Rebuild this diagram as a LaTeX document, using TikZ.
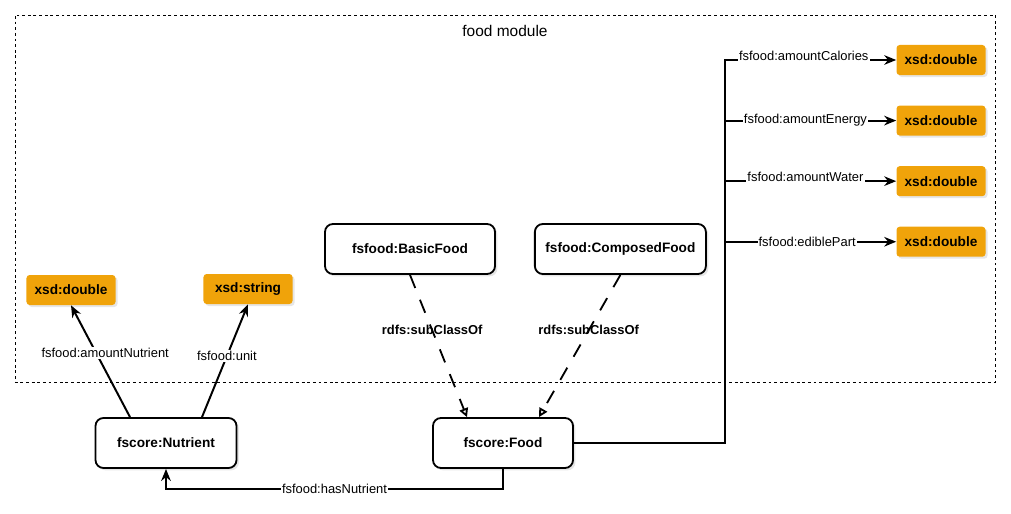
\documentclass[tikz,border=0pt]{standalone}
\usepackage{fontspec}
\setmainfont{Liberation Sans}
\usetikzlibrary{arrows.meta, positioning, shadows}
\definecolor{xsdorange}{RGB}{240, 163, 10}
\definecolor{linkblack}{RGB}{0, 0, 0}
\tikzset{
    classbox/.style={rectangle, draw=linkblack, fill=white, line width=1.3pt, minimum width=3.5cm, minimum height=1.25cm, align=center, rounded corners=2mm, font=\fontsize{9.7}{11}\selectfont\bfseries, drop shadow={opacity=0.2, shadow xshift=0.6mm, shadow yshift=-0.6mm}},
    xsdbox/.style={rectangle, fill=xsdorange, minimum width=2.225cm, minimum height=0.75cm, rounded corners=0.8mm, font=\fontsize{9.7}{11}\selectfont\bfseries, drop shadow={opacity=0.2, shadow xshift=0.5mm, shadow yshift=-0.5mm}},
    modulebox/.style={rectangle, draw=linkblack, line width=0.5pt, dash pattern=on 2pt off 2pt},
    proplabel/.style={fill=white, inner sep=0.8pt, font=\fontsize{9.2}{11}\selectfont},
    sublabel/.style={inner sep=1pt, font=\fontsize{9.2}{11}\selectfont\bfseries},
    link/.style={linkblack, line width=1.3pt},
    prop/.style={-{Stealth[length=3mm, width=2.4mm]}, linkblack, line width=1.4pt},
    subclass/.style={-{Triangle[open, length=2.2mm, width=2.2mm]}, linkblack, line width=1.3pt, dash pattern=on 10pt off 9pt}
}
\begin{document}
\begin{tikzpicture}[x=0.025cm, y=-0.025cm]
    \useasboundingbox (0,0) rectangle (1011,513);

    \node (module) [modulebox, minimum width=24.5cm, minimum height=9.175cm] at (505,198.5) {};
    \node (moduletitle) [font=\fontsize{11}{13}\selectfont] at (505,31) {food module};

    \node (nutrient) [classbox, minimum width=3.525cm] at (166,443) {fscore:Nutrient};
    \node (food) [classbox] at (503,443) {fscore:Food};
    \node (basic) [classbox, minimum width=4.25cm] at (410,249) {fsfood:BasicFood};
    \node (composed) [classbox, minimum width=4.275cm, right=0.95cm of basic] {fsfood:ComposedFood};

    \node (ndouble) [xsdbox] at (71,290) {xsd:double};
    \node (nstring) [xsdbox] at (248,289) {xsd:string};

    \node (cal) [xsdbox] at (941,60) {xsd:double};
    \node (energy) [xsdbox, below=0.75cm of cal] {xsd:double};
    \node (water) [xsdbox, below=0.75cm of energy] {xsd:double};
    \node (edible) [xsdbox, below=0.75cm of water] {xsd:double};

    \coordinate (fork) at (725,443);

    \draw [prop] ([xshift=-0.9cm]nutrient.north) -- (ndouble.south) node [proplabel, pos=0.57, xshift=0.22cm] {fsfood:amountNutrient};
    \draw [prop] ([xshift=0.9cm]nutrient.north) -- (nstring.south) node [proplabel, pos=0.54] {fsfood:unit};

    \draw [subclass] (basic.south) -- ([xshift=-0.9cm]food.north) node [sublabel, pos=0.39] {rdfs:subClassOf};
    \draw [subclass] (composed.south) -- ([xshift=0.9cm]food.north) node [sublabel, pos=0.39] {rdfs:subClassOf};

    \draw [prop] (food.south) -- ++(0,-0.5cm) -| (nutrient.south) node [proplabel, pos=0.25] {fsfood:hasNutrient};

    \draw [prop] (food.east) -- (fork) |- (cal.west) node [proplabel, pos=0.73, yshift=0.1cm] {fsfood:amountCalories};
    \foreach \target/\prop/\where/\lift in {energy/amountEnergy/0.47/0, water/amountWater/0.47/0.1, edible/ediblePart/0.48/0}
        \draw [prop] (fork |- \target.west) -- (\target.west) node [proplabel, pos=\where, yshift=\lift cm] {fsfood:\prop};
\end{tikzpicture}
\end{document}
